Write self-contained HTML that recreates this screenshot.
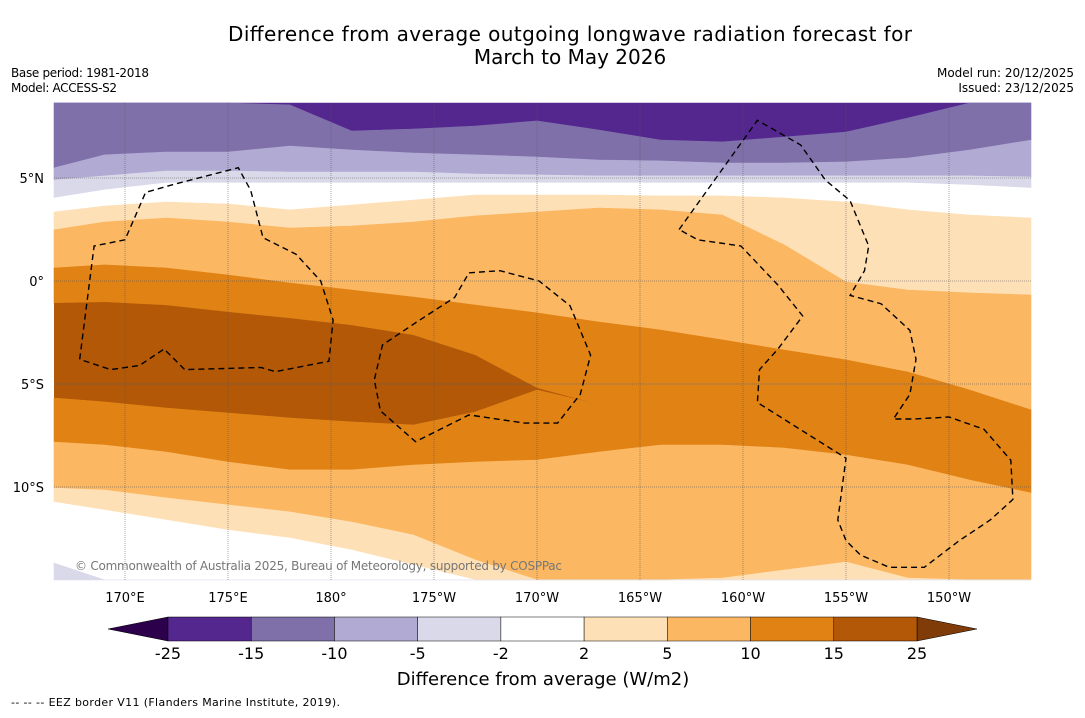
<!DOCTYPE html>
<html><head><meta charset="utf-8">
<style>
body{margin:0;background:#fff;font-family:"Liberation Sans","DejaVu Sans",sans-serif;}
svg text{font-family:"DejaVu Sans","Liberation Sans",sans-serif;}
</style></head>
<body>
<svg id="chart" width="1085" height="713" xmlns="http://www.w3.org/2000/svg">
<rect width="1085" height="713" fill="#fff"/>
<text x="570" y="41" font-size="20" text-anchor="middle" textLength="684">Difference from average outgoing longwave radiation forecast for</text>
<text x="570" y="64" font-size="20" text-anchor="middle">March to May 2026</text>
<text x="11" y="77" font-size="12" textLength="138">Base period: 1981-2018</text>
<text x="11" y="92" font-size="12" textLength="106">Model: ACCESS-S2</text>
<text x="1074" y="77" font-size="12" text-anchor="end">Model run: 20/12/2025</text>
<text x="1074" y="92" font-size="12" text-anchor="end">Issued: 23/12/2025</text>
<g id="map"></g>
<g id="cbar"></g>
<text x="543" y="685" font-size="18" text-anchor="middle">Difference from average (W/m2)</text>
<text x="11" y="706" font-size="11" textLength="329">--  --  -- EEZ border V11 (Flanders Marine Institute, 2019).</text>
</svg>
<script>
const lons=[166.5,169,172,175,178,181,184,187,190,193,196,199,202,205,208,211,214];
const bDark=[8.64,8.64,8.64,8.64,8.55,7.28,7.38,7.52,7.77,7.33,6.84,6.75,6.99,7.23,7.91,8.64,8.64];
const bM10=[5.49,6.12,6.26,6.26,6.55,6.36,6.21,6.12,6.02,5.87,5.83,5.73,5.73,5.78,5.97,6.36,6.84];
const bM5=[4.90,5.10,5.34,5.34,5.29,5.29,5.29,5.19,5.15,5.10,5.10,5.10,5.10,5.10,5.10,5.10,5.05];
const bM2=[4.03,4.42,4.76,4.76,4.76,4.76,4.76,4.76,4.76,4.76,4.76,4.76,4.76,4.76,4.76,4.66,4.51];
const bP2=[3.35,3.64,3.83,3.74,3.45,3.69,3.93,4.17,4.17,4.17,4.13,4.13,4.03,3.83,3.45,3.20,3.06];
const bP5=[2.48,2.86,3.06,2.86,2.57,2.67,2.86,3.16,3.35,3.54,3.45,3.20,1.75,-0.05,-0.44,-0.58,-0.68];
const bP10=[0.63,0.78,0.63,0.29,-0.10,-0.44,-0.78,-1.17,-1.55,-1.99,-2.38,-2.86,-3.35,-3.83,-4.42,-5.29,-6.26];
const bP15a=[-1.07,-1.02,-1.17,-1.50,-1.80,-2.14,-2.62,-3.59,-5.19,-6.0,-6.0,-6.0,-6.0,-6.5,-7.0,-7.5,-8.0];
const bP15b=[-5.68,-5.87,-6.17,-6.41,-6.65,-6.84,-6.99,-6.36,-5.29,-6.0,-6.0,-6.0,-6.0,-6.5,-7.0,-7.5,-8.0];
const bP10b=[-7.82,-7.96,-8.30,-8.79,-9.17,-9.17,-8.93,-8.79,-8.69,-8.30,-7.96,-7.96,-8.11,-8.45,-8.93,-9.66,-10.29];
const bP5b=[-10.05,-10.15,-10.53,-10.87,-11.21,-11.70,-12.33,-13.54,-14.51,-14.51,-14.51,-14.42,-14.03,-13.64,-14.42,-14.51,-14.51];
const bP2b=[-10.73,-11.12,-11.60,-12.09,-12.48,-13.06,-13.79,-14.51,-14.51,-14.51,-14.51,-14.51,-14.51,-14.51,-14.51,-14.51,-14.51];
const bM2b=[-13.69,-14.51,-14.51,-14.51,-14.51,-14.51,-14.51,-14.51,-14.51,-14.51,-14.51,-14.51,-14.51,-14.51,-14.51,-14.51,-14.51];
const levels=["-25","-15","-10","-5","-2","2","5","10","15","25"];
const colors=["#54278f","#7f70aa","#b1aad2","#d9d9ea","#ffffff","#fee0b6","#fbb762","#e08214","#b35806"];
const lonTicks=[170,175,180,185,190,195,200,205,210];
const lonLabels=["170°E","175°E","180°","175°W","170°W","165°W","160°W","155°W","150°W"];
const latTicks=[5,0,-5,-10];
const latLabels=["5°N","0°","5°S","10°S"];
const eez1=[[167.8,-3.8],[168.5,1.7],[170.0,2.0],[171.0,4.3],[172.4,4.7],[175.5,5.5],[176.1,4.4],[176.7,2.1],[178.3,1.3],[179.5,0.0],[180.1,-1.9],[179.9,-3.9],[177.3,-4.4],[176.6,-4.2],[172.9,-4.3],[171.9,-3.3],[170.7,-4.1],[169.3,-4.3],[167.8,-3.8]];
const eez2=[[186.7,0.4],[188.2,0.5],[190.1,0.0],[191.6,-1.2],[192.6,-3.6],[192.1,-5.5],[191.0,-6.9],[189.4,-6.9],[186.7,-6.5],[184.1,-7.8],[182.4,-6.3],[182.1,-4.8],[182.5,-3.1],[184.3,-1.9],[186.0,-0.8],[186.7,0.4]];
const eez3=[[196.9,2.5],[200.7,7.8],[202.8,6.6],[204.0,4.9],[205.2,3.9],[206.1,1.7],[205.9,0.5],[205.2,-0.7],[206.7,-1.1],[208.1,-2.4],[208.4,-3.8],[208.1,-5.5],[207.3,-6.7],[208.3,-6.7],[210.0,-6.6],[211.7,-7.2],[213.0,-8.7],[213.1,-10.6],[212.0,-11.6],[210.5,-12.6],[208.8,-13.9],[207.1,-13.9],[205.7,-13.3],[205.0,-12.6],[204.6,-11.6],[205.0,-8.6],[200.7,-5.9],[200.8,-4.3],[201.7,-3.3],[202.9,-1.7],[201.7,-0.2],[199.9,1.7],[197.8,2.0],[196.9,2.5]];

const NS='http://www.w3.org/2000/svg';
const X0=54,X1=1031,Y0=103,Y1=580;
const xScale=lon=>Math.max(X0,Math.min(X1,125+(lon-170)*20.6));
const yScale=lat=>Math.max(Y0,Math.min(Y1,281-lat*20.6));
const map=document.getElementById('map');
function mk(tag,attrs,parent){const e=document.createElementNS(NS,tag);for(const k in attrs)e.setAttribute(k,attrs[k]);parent.appendChild(e);return e;}
const topB=lons.map(()=>8.64), botB=lons.map(()=>-14.51);
const bounds=[topB,bDark,bM10,bM5,bM2,bP2,bP5,bP10,bP15a,bP15b,bP10b,bP5b,bP2b,bM2b,botB];
const bandColors=[colors[0],colors[1],colors[2],colors[3],colors[4],colors[5],colors[6],colors[7],colors[8],colors[7],colors[6],colors[5],colors[4],colors[3]];
mk('rect',{x:X0,y:Y0,width:X1-X0,height:Y1-Y0,fill:'#fff'},map);
for(let i=0;i<bandColors.length;i++){
  const a=bounds[i],b=bounds[i+1];
  let d='';
  lons.forEach((l,j)=>{d+=(j?'L':'M')+xScale(l).toFixed(1)+','+yScale(a[j]).toFixed(1);});
  for(let j=lons.length-1;j>=0;j--)d+='L'+xScale(lons[j]).toFixed(1)+','+yScale(b[j]).toFixed(1);
  d+='Z';
  const p=mk('path',{d:d,fill:bandColors[i],stroke:i===8?'none':bandColors[i],'stroke-width':0.6},map);
  
  
}
lonTicks.forEach((l,i)=>{
  const x=xScale(l);
  const g=mk('line',{x1:x,x2:x,y1:Y0,y2:Y1,stroke:'#555','stroke-width':0.5,'stroke-dasharray':'1,1'},map);
  
  
  const t=mk('text',{x:x,y:602,'font-size':13,'text-anchor':'middle'},map);t.textContent=lonLabels[i];
  
  
});
latTicks.forEach((l,i)=>{
  const y=yScale(l);
  const g=mk('line',{x1:X0,x2:X1,y1:y,y2:y,stroke:'#555','stroke-width':0.5,'stroke-dasharray':'1,1'},map);
  
  
  const t=mk('text',{x:44,y:y+5,'font-size':13,'text-anchor':'end'},map);t.textContent=latLabels[i];
  
  
});
[eez1,eez2,eez3].forEach((pts,k)=>{
  const e=mk('polyline',{points:pts.map(p=>xScale(p[0]).toFixed(1)+','+yScale(p[1]).toFixed(1)).join(' '),fill:'none',stroke:'#000','stroke-width':1.4,'stroke-dasharray':'6,4'},map);
  
  
});
const cr=mk('text',{x:75,y:570,'font-size':12,fill:'#777',textLength:487},map);
cr.textContent='© Commonwealth of Australia 2025, Bureau of Meteorology, supported by COSPPac';



const cb=document.getElementById('cbar');
const CX0=168,CX1=917,CY=617,CH=24,seg=(CX1-CX0)/colors.length;
const lt=mk('polygon',{points:`108,629 ${CX0},${CY} ${CX0},${CY+CH}`,fill:'#2d004b',stroke:'#000','stroke-width':0.5},cb);


const rt=mk('polygon',{points:`977,629 ${CX1},${CY} ${CX1},${CY+CH}`,fill:'#7f3b08',stroke:'#000','stroke-width':0.5},cb);


colors.forEach((c,i)=>{
  const r=mk('rect',{x:CX0+i*seg,y:CY,width:seg,height:CH,fill:c,stroke:'#000','stroke-width':0.5},cb);
  
  
});
levels.forEach((lv,i)=>{
  const t=mk('text',{x:CX0+i*seg,y:659,'font-size':16,'text-anchor':'middle'},cb);t.textContent=lv;
  
  
});
</script>
</body></html>
